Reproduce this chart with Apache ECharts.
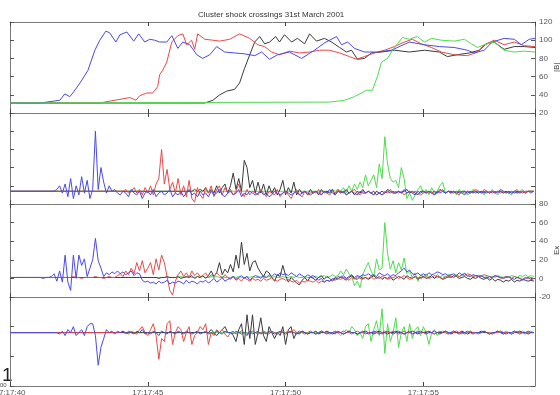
<!DOCTYPE html>
<html>
<head>
<meta charset="utf-8">
<script src="https://cdn.jsdelivr.net/npm/echarts@6/dist/echarts.min.js"></script>
<style>
  html, body { margin: 0; padding: 0; background: #fff; }
  #chart { width: 560px; height: 395px; }
</style>
</head>
<body>
<div id="chart"></div>
<script>
// Seconds after 17:17:40 UT; tick labels for the shared time axis
const timeLabels = ['17:17:40', '17:17:45', '17:17:50', '17:17:55'];
const timeMax = 19.05;

// Spacecraft colours (C1 black, C2 red, C3 green, C4 blue)
const scNames = ['C1', 'C2', 'C3', 'C4'];
const scColors = ['#3a3a3a', '#e84a4a', '#4fdc4f', '#4a4ae8'];

// |B| (nT) as [seconds, value]
const bMagC1 = [[0,31],[7.07,31],[7.36,34],[7.61,40],[7.86,44],[8.15,46],[8.33,53],[8.51,69],[8.7,84],[8.88,98],[9.06,104],[9.24,96],[9.42,98],[9.64,104],[9.78,98],[9.96,106],[10.22,98],[10.43,102],[10.69,96],[10.87,107],[11.12,99],[11.41,102],[11.67,98],[11.96,92],[12.21,87],[12.39,89],[12.61,79],[12.86,80],[13.12,86],[13.48,87],[13.95,89],[14.49,87],[15.04,89],[15.58,87],[15.87,82],[16.23,84],[16.67,86],[17.03,89],[17.28,96],[17.57,98],[17.93,90],[18.3,93],[18.66,93],[19.05,92]];
const bMagC2 = [[0,31],[3.26,31],[3.62,33],[3.99,35],[4.35,37],[4.57,34],[4.71,39],[4.96,42],[5.18,42],[5.36,49],[5.43,62],[5.54,67],[5.69,76],[5.87,98],[6.09,105],[6.27,107],[6.41,95],[6.59,100],[6.7,90],[6.81,107],[6.88,109],[7.07,101],[7.36,100],[7.61,99],[7.97,101],[8.33,107],[8.7,102],[8.99,95],[9.24,93],[9.49,87],[9.78,84],[10.14,88],[10.51,86],[10.87,87],[11.23,89],[11.59,89],[11.96,86],[12.32,82],[12.57,79],[12.86,82],[13.22,86],[13.59,89],[13.95,93],[14.31,98],[14.6,101],[14.93,96],[15.29,92],[15.65,87],[16.12,84],[16.59,83],[16.96,87],[17.21,95],[17.57,100],[17.93,95],[18.3,98],[18.66,94],[19.05,93]];
const bMagC3 = [[0,31],[11.59,32],[12.14,34],[12.5,38],[12.75,42],[12.93,45],[13.15,45],[13.33,60],[13.48,76],[13.7,80],[13.88,89],[14.06,96],[14.24,103],[14.49,101],[14.78,104],[15.04,98],[15.29,102],[15.65,100],[16.12,99],[16.49,101],[16.74,96],[16.96,92],[17.21,95],[17.57,98],[17.93,89],[18.3,87],[18.66,88],[19.05,87]];
const bMagC4 = [[0,31],[1.09,31],[1.81,34],[1.99,41],[2.17,38],[2.28,42],[2.54,53],[2.83,67],[3.08,89],[3.26,100],[3.48,110],[3.62,108],[3.84,98],[3.99,106],[4.24,109],[4.49,99],[4.67,107],[4.89,98],[5.07,101],[5.25,100],[5.43,98],[5.69,98],[5.87,105],[6.09,91],[6.27,98],[6.52,95],[6.78,84],[6.99,80],[7.25,84],[7.5,93],[7.79,87],[8.15,86],[8.51,85],[8.88,83],[9.13,87],[9.42,79],[9.71,84],[10.14,87],[10.58,80],[11.05,89],[11.41,97],[11.85,104],[12.03,95],[12.25,98],[12.5,91],[12.86,87],[13.33,87],[13.84,89],[14.49,98],[15.04,95],[15.58,93],[16.12,92],[16.59,89],[16.85,86],[17.21,89],[17.5,98],[17.93,102],[18.3,101],[18.55,95],[18.84,101],[19.05,102]];

// Wave panels: samples every 0.1 s from 0 to 19.0 s (one row per second)
const sampleStep = 0.1;

// Second panel (unlabelled scale)
const p2C1 = [
7,7,7,7,7,7,7,7,7,7, 7,7,7,7,7,7,7,7,7,7, 7,7,7,7,7,7,7,7,7,7,
7,7,7,7,7,7,7,7,7,7, 7,7,7,7,7,7,7,7,7,7, 7,7,7,7,7,7,7,7,7,7,
7,7,7,7,7,7,7,8,7,8,
7,9,6,8,6,10,6,9,11,6,
10,17,8,14,7,24,20,9,13,6,
12,6,11,5,10,6,9,5,8,13,
5,9,6,12,5,8,6,7,5,8,
6,7,5,8,6,7,6,8,5,7,
7,6,8,6,7,5,7,6,8,6,
7,6,7,5,6,7,6,8,7,6,
6,7,6,7,8,6,7,6,5,7,
7,6,7,6,7,6,8,7,6,7,
7,6,7,6,7,7,6,7,6,7,
6,7,6,7,6,7,6,7,7,6,
7,6,7,6,7,6,7,6,7,7,
7];
const p2C2 = [
7,7,7,7,7,7,7,7,7,7, 7,7,7,7,7,7,7,7,7,7, 7,7,7,7,7,7,7,7,7,7,
7,7,7,7,7,7,7,7,7,7,
7,7,8,6,7,9,6,8,5,9,
6,10,5,11,14,30,11,19,8,12,
6,14,5,10,4,13,3,1,9,5,
3,9,6,10,4,8,10,5,9,6,
8,5,7,11,6,4,8,5,7,6,
5,8,6,4,7,6,5,8,4,6,
7,5,3,6,8,5,4,7,5,6,
7,6,8,5,7,6,5,7,6,8,
6,7,5,6,7,8,6,5,7,6,
7,6,5,7,6,5,7,6,8,6,
7,6,7,5,6,7,6,7,6,5,
6,7,6,7,5,6,7,8,6,7,
6,7,6,5,7,6,7,6,7,8,
7,6,8,7,6,7,6,7,6,7,
6,7,6,7,8,6,7,6,7,7,
7];
const p2C3 = [
7,7,7,7,7,7,7,7,7,7, 7,7,7,7,7,7,7,7,7,7, 7,7,7,7,7,7,7,7,7,7,
7,7,7,7,7,7,7,7,7,7, 7,7,7,7,7,7,7,7,7,7, 7,7,7,7,7,7,7,7,7,7,
7,7,7,7,7,7,7,7,7,7, 7,7,7,7,7,7,7,7,7,7, 7,7,7,7,7,7,7,7,7,7,
7,7,7,7,7,7,7,7,7,7, 7,7,7,7,7,7,7,7,7,7,
7,7,7,7,7,7,7,8,7,8,
7,9,6,10,7,11,8,12,9,16,
10,13,16,9,22,14,37,22,14,12,
13,9,20,14,3,6,2,5,8,10,
6,8,5,9,6,7,10,12,6,7,
6,7,5,8,6,7,5,6,8,7,
6,7,5,7,6,8,6,5,7,6,
7,6,5,7,6,7,8,6,7,7,
7];
const p2C4 = [
7,7,7,7,7,7,7,7,7,7,
7,7,7,7,7,7,7,8,10,6,
11,4,14,3,10,5,15,6,13,3,
8,40,8,20,12,6,10,7,8,6,
5,7,6,4,8,6,5,7,3,6,
7,5,8,4,6,7,5,6,8,4,
6,5,7,4,6,8,5,6,4,7,
5,6,4,7,5,6,8,5,4,6,
7,5,6,8,4,6,5,7,6,5,
6,7,5,6,4,5,7,6,5,6,
7,6,5,6,7,5,6,7,6,5,
6,7,6,5,7,6,8,6,5,7,
6,7,5,6,7,6,5,7,6,6,
7,6,5,7,6,5,6,7,6,7,
6,7,6,8,6,7,6,5,7,6,
7,6,7,6,5,7,6,7,6,7,
6,7,6,7,6,5,7,6,7,6,
7,6,7,6,7,6,7,6,8,7,
6,7,6,7,6,7,6,7,7,6,
7];

// Ex (mV/m)
const exC1 = [
1,1,1,1,1,1,1,1,1,1, 1,1,1,1,1,1,1,1,1,1, 1,1,1,1,1,1,1,1,1,1,
1,1,1,1,1,1,1,1,1,1, 1,1,1,1,1,1,1,1,1,1,
1,1,1,1,0,1,1,2,1,1,
1,2,0,1,2,1,3,0,2,1,
3,0,3,8,2,6,17,4,10,6,
15,7,25,11,39,15,27,8,17,19,
11,6,2,8,6,1,-3,4,2,14,
3,-4,1,-2,-5,-7,-2,1,-3,2,
0,-2,1,3,-1,2,0,-3,1,-1,
2,0,-2,1,3,0,-1,2,0,1,
-1,1,3,0,2,-1,1,0,2,-2,
0,2,1,-1,3,1,0,2,-1,1,
2,0,1,3,0,2,1,-1,0,2,
1,3,2,0,1,2,0,-1,1,0,
2,0,-1,1,-2,0,-3,-1,-2,-4,
-2,-3,-1,-4,-2,-3,-1,-2,-3,-2,
-3];
const exC2 = [
1,1,1,1,1,1,1,1,1,1, 1,1,1,1,1,1,1,1,1,1,
1,1,1,2,1,1,0,1,1,1,
1,2,1,1,0,1,2,1,1,3,
5,2,8,4,11,5,17,8,19,6,
11,17,4,21,9,25,17,2,-13,-18,
-3,4,8,2,6,1,8,3,6,2,
3,6,1,4,2,6,3,0,4,1,
-1,2,-2,0,-3,1,-1,-3,0,-2,
-1,-3,0,-2,-1,1,-2,-3,-1,0,
-2,-1,-3,-4,-2,-5,-3,-4,-2,-3,
-4,-2,-5,-3,-4,-2,-3,-1,-2,0,
-1,1,0,-2,1,-1,2,0,-1,1,
0,2,-1,1,0,2,1,-1,0,1,
2,0,1,3,1,-1,0,2,1,0,
1,2,0,1,3,2,1,0,2,1,
2,1,3,2,4,3,5,4,2,3,
3,2,4,3,2,1,3,2,0,1,
2,1,0,2,1,0,-1,1,0,1,
0];
const exC3 = [
1,1,1,1,1,1,1,1,1,1, 1,1,1,1,1,1,1,1,1,1, 1,1,1,1,1,1,1,1,1,1,
1,1,1,1,1,1,1,1,1,1, 1,1,1,1,1,1,1,1,1,1, 1,1,1,1,1,1,1,1,1,1,
1,1,2,1,1,2,1,1,2,1, 2,1,1,2,1,2,1,2,1,1, 1,2,1,2,1,1,2,1,2,1,
1,2,1,1,2,1,2,1,1,2, 1,1,2,1,2,1,1,2,1,1,
1,2,1,2,3,1,2,4,2,3,
8,4,10,5,2,-8,-3,-10,4,11,
17,8,2,21,9,11,60,27,10,19,
6,17,9,22,5,8,1,6,-3,4,
2,5,1,3,0,4,2,3,1,4,
3,1,4,2,3,6,2,4,1,3,
2,3,1,2,0,2,1,3,2,1,
2,1,3,2,1,3,2,4,2,3,
2];
const exC4 = [
1,1,1,1,1,1,1,1,1,1,
1,1,0,1,1,2,5,-3,8,-4,
25,-4,-13,25,0,25,14,21,2,11,
20,43,19,11,2,6,4,7,5,8,
5,7,4,6,8,3,6,5,-2,-4,
-3,-5,-4,-6,-3,-5,-4,-2,-6,-4,
-5,-3,-4,-6,-2,-5,-3,-4,-6,-3,
-4,-2,-5,-3,0,-4,-2,1,-3,-1,
0,2,-1,1,3,0,2,-2,1,3,
2,0,3,1,4,2,5,3,6,4,
5,3,6,4,2,5,3,1,4,2,
3,1,-2,0,-4,-2,-3,0,-1,2,
1,3,0,2,4,1,3,2,4,3,
5,3,4,2,6,4,3,5,2,4,
3,6,8,11,7,9,5,4,6,3,
5,3,6,4,5,7,6,4,5,3,
4,5,3,6,4,5,3,2,4,3,
2,3,1,0,2,1,3,2,1,0,
1,2,0,-1,1,0,-2,0,1,-1,
-2];

// Bottom panel (unlabelled scale)
const p4C1 = [
36,36,36,36,36,36,36,36,36,36, 36,36,36,36,36,36,36,36,36,36, 36,36,36,36,36,36,36,36,36,36,
36,36,36,36,36,36,36,36,36,36, 36,36,36,36,36,36,36,36,36,36, 36,36,36,36,36,36,36,36,36,36,
36,36,36,36,36,36,36,36,36,36,
36,36,36,38,36,34,36,38,40,36,
36,34,30,38,42,28,48,32,48,28,
36,46,34,30,40,36,32,36,34,40,
28,38,40,32,36,35,37,36,35,36,
36,37,35,36,36,37,36,35,36,36,
36,35,36,37,36,36,35,36,36,37,
36,36,35,36,37,36,36,35,36,36,
37,36,36,35,36,36,37,36,35,36,
36,36,37,36,35,36,36,36,37,36,
35,36,36,36,37,36,35,36,36,36,
36,37,36,36,35,36,36,37,36,35,
36,36,35,36,36,37,36,36,35,36,
36];
const p4C2 = [
36,36,36,36,36,36,36,36,36,36, 36,36,36,36,36,36,36,36,36,36,
36,36,36,36,36,36,36,36,36,36, 36,36,36,36,36,36,36,36,36,36,
36,37,36,35,37,36,35,38,40,36,
34,38,42,34,18,32,30,42,44,28,
36,40,38,30,36,40,28,34,36,40,
38,42,28,36,34,38,36,38,35,33,
36,37,35,36,37,36,35,36,37,36,
35,36,37,36,35,37,36,35,36,37,
36,37,36,38,36,37,36,35,36,37,
36,35,36,37,36,36,35,36,37,36,
36,37,36,36,35,36,37,36,36,35,
36,36,37,36,35,36,37,36,36,37,
36,35,36,37,36,36,35,36,37,36,
36,37,36,36,35,36,37,36,36,35,
36,36,37,36,36,35,36,37,36,36,
35,36,37,36,36,35,36,36,37,36,
36,36,35,36,37,36,36,35,36,36,
36];
const p4C3 = [
36,36,36,36,36,36,36,36,36,36, 36,36,36,36,36,36,36,36,36,36, 36,36,36,36,36,36,36,36,36,36,
36,36,36,36,36,36,36,36,36,36, 36,36,36,36,36,36,36,36,36,36, 36,36,36,36,36,36,36,36,36,36,
36,36,36,36,36,36,36,36,36,36, 36,36,36,36,36,36,36,36,36,36, 36,36,36,36,36,36,36,36,36,36,
36,36,36,36,36,36,36,36,36,36, 36,36,36,36,36,36,36,36,36,36,
36,36,36,36,36,36,36,36,37,36,
34,36,38,36,40,38,34,36,32,40,
42,30,38,44,34,52,22,42,30,36,
46,26,36,40,30,42,32,38,40,34,
40,36,28,36,38,34,36,37,36,35,
36,37,36,36,35,36,36,37,36,36,
36,36,37,36,36,35,36,36,37,36,
37,36,36,37,36,36,37,36,36,37,
36];
const p4C4 = [
36,36,36,36,36,36,36,36,36,36,
36,36,36,36,36,36,36,36,35,37,
34,38,36,40,34,36,38,34,40,42,
42,34,14,26,32,38,36,37,35,37,
36,37,35,37,36,35,37,36,38,35,
36,35,37,36,34,37,36,35,37,36,
35,37,36,35,37,36,35,36,37,35,
36,37,35,36,35,37,36,35,37,36,
36,35,37,36,35,36,34,37,35,36,
37,35,36,35,37,36,35,36,37,36,
35,36,37,36,35,36,37,36,35,36,
36,35,36,37,36,35,36,36,35,37,
36,35,36,37,36,36,35,36,37,36,
35,36,36,37,36,35,36,37,36,35,
36,37,36,35,36,37,35,36,36,37,
36,35,36,36,37,36,35,36,37,36,
36,37,36,35,36,36,37,36,35,36,
36,36,37,36,35,36,36,37,36,36,
35,36,36,37,36,35,36,36,37,36,
36];

// Panel scales
const panelRanges = [
  { min: 20, max: 120, interval: 20, labels: true },
  { min: 0, max: 50, interval: 10, labels: false },
  { min: -20, max: 80, interval: 20, labels: true },
  { min: 0, max: 60, interval: 20, labels: false }
];
// Per panel: spacecraft data and draw order (index into scNames / scColors)
const panelData = [
  [bMagC1, bMagC2, bMagC3, bMagC4],
  [p2C1, p2C2, p2C3, p2C4],
  [exC1, exC2, exC3, exC4],
  [p4C1, p4C2, p4C3, p4C4]
];
const panelOrder = [
  [0, 1, 3, 2],
  [2, 0, 1, 3],
  [2, 0, 1, 3],
  [2, 0, 1, 3]
];

// Pixel layout of the four stacked panels
const panelBoxes = [
  { top: 22, height: 91 },
  { top: 113, height: 91 },
  { top: 204, height: 93 },
  { top: 297, height: 89 }
];

function sampled(values) {
  return values.map((v, i) => [Math.round(i * sampleStep * 10) / 10, v]);
}

const axisColor = '#7a7a7a';
const labelFont = { fontSize: 8, color: '#555', fontFamily: 'Liberation Sans, Arial, sans-serif' };

const grids = [], xAxes = [], yAxes = [], series = [];
panelBoxes.forEach((box, g) => {
  grids.push({ left: 10, right: 25, top: box.top, height: box.height, containLabel: false, outerBoundsMode: 'none' });
  const isBottom = g === panelBoxes.length - 1;
  const xBase = {
    type: 'value', gridIndex: g, min: 0, max: timeMax, interval: 5,
    splitLine: { show: false },
    axisLine: { show: true, onZero: false, lineStyle: { color: axisColor, width: 1 } },
    axisTick: { show: true, inside: true, length: 4, lineStyle: { color: '#444' } }
  };
  xAxes.push(Object.assign({}, xBase, {
    position: 'bottom',
    axisLabel: {
      show: isBottom, margin: 3, showMaxLabel: false,
      alignMinLabel: 'center',
      ...labelFont,
      formatter: v => timeLabels[Math.round(v / 5)] || ''
    }
  }));
  xAxes.push(Object.assign({}, xBase, { position: 'top', axisLabel: { show: false } }));

  const r = panelRanges[g];
  const yBase = {
    type: 'value', gridIndex: g, min: r.min, max: r.max, interval: r.interval,
    splitLine: { show: false },
    axisLine: { show: true, onZero: false, lineStyle: { color: axisColor, width: 1 } },
    axisTick: { show: true, inside: true, length: 4, lineStyle: { color: '#555' } }
  };
  yAxes.push(Object.assign({}, yBase, { position: 'left', axisLabel: { show: false } }));
  yAxes.push(Object.assign({}, yBase, {
    position: 'right',
    axisLabel: { show: r.labels, margin: 4, ...labelFont }
  }));

  panelOrder[g].forEach(k => {
    const d = panelData[g][k];
    series.push({
      type: 'line',
      name: scNames[k],
      xAxisIndex: 2 * g,
      yAxisIndex: 2 * g + 1,
      data: g === 0 ? d : sampled(d),
      showSymbol: false,
      silent: true,
      animation: false,
      lineStyle: { color: scColors[k], width: 1 },
      itemStyle: { color: scColors[k] }
    });
  });
});

const chart = echarts.init(document.getElementById('chart'), null, { renderer: 'canvas' });
chart.setOption({
  backgroundColor: '#fff',
  animation: false,
  title: {
    text: 'Cluster shock crossings 31st March 2001',
    left: 193, top: 6,
    textStyle: { fontSize: 8, fontWeight: 'normal', color: '#333', fontFamily: 'Liberation Sans, Arial, sans-serif' }
  },
  grid: grids,
  xAxis: xAxes,
  yAxis: yAxes,
  series: series,
  graphic: [
    { type: 'text', x: 553, y: 72, rotation: Math.PI / 2,
      style: { text: '|B|', fontSize: 8, fill: '#444', fontFamily: 'Liberation Sans, Arial, sans-serif' } },
    { type: 'text', x: 553, y: 255, rotation: Math.PI / 2,
      style: { text: 'Ex', fontSize: 8, fill: '#444', fontFamily: 'Liberation Sans, Arial, sans-serif' } },
    { type: 'text', x: 2, y: 366,
      style: { text: '1', fontSize: 19, fill: '#222', fontFamily: 'Liberation Sans, Arial, sans-serif' } },
    { type: 'text', x: 0, y: 382,
      style: { text: '00', fontSize: 6, fill: '#444', fontFamily: 'Liberation Sans, Arial, sans-serif' } }
  ]
});
</script>
</body>
</html>
